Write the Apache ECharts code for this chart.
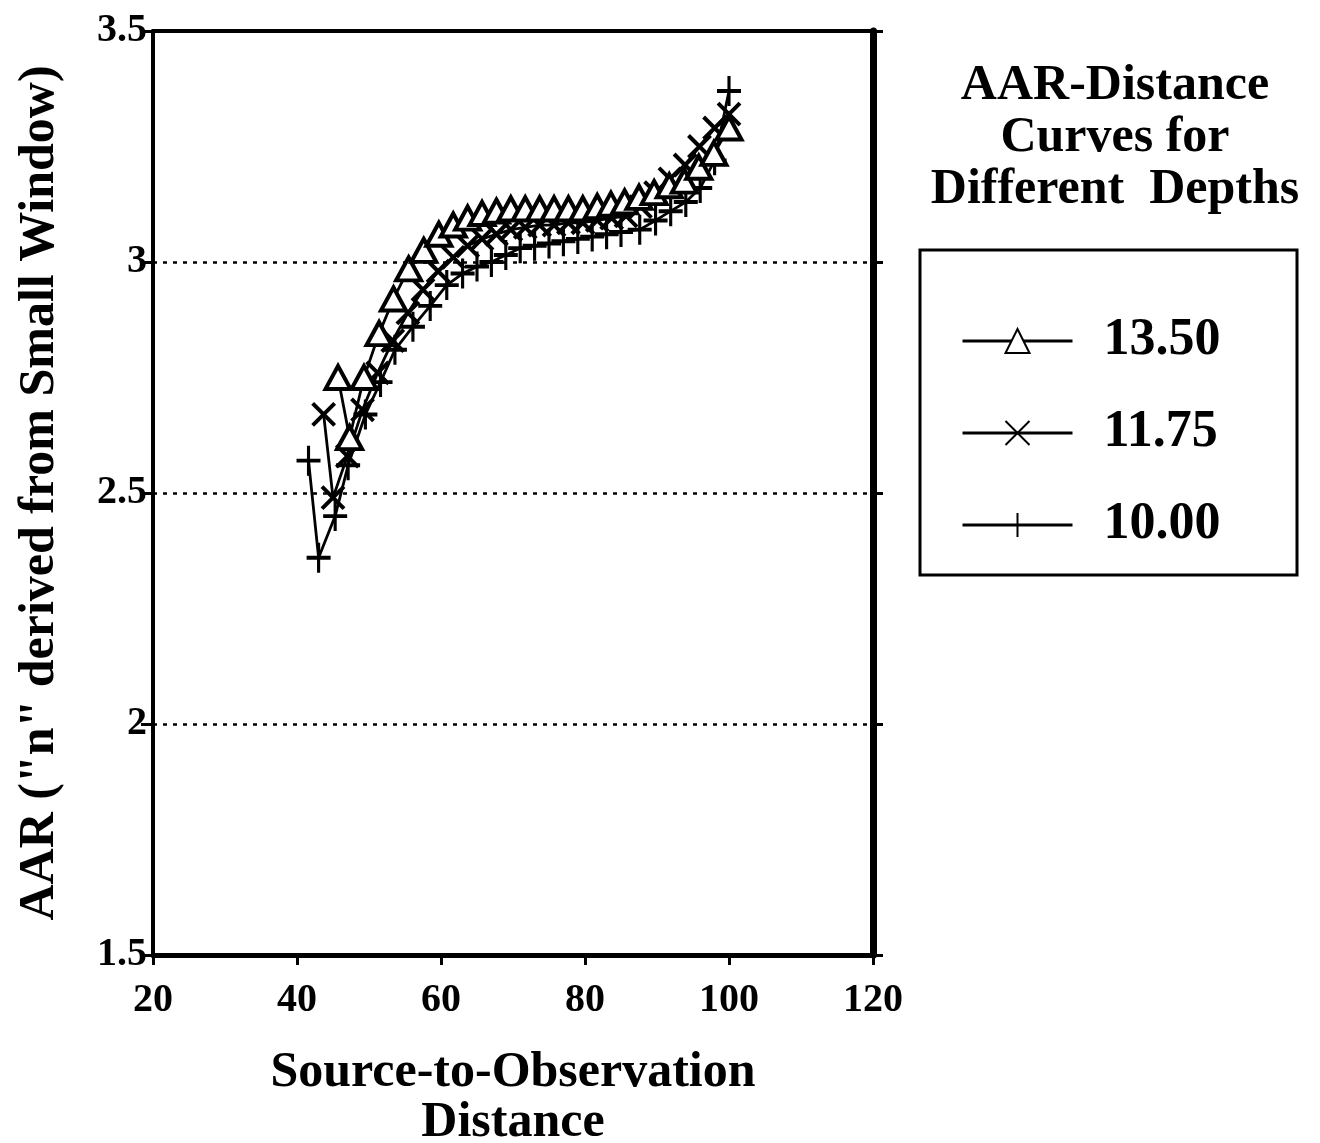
<!DOCTYPE html>
<html>
<head>
<meta charset="utf-8">
<script src="https://cdn.jsdelivr.net/npm/echarts@6/dist/echarts.min.js"></script>
<style>
  html, body { margin: 0; padding: 0; background: #fff; }
  #chart { width: 1320px; height: 1143px; }
</style>
</head>
<body>
<div id="chart"></div>
<script>
  // depth 13.50 (triangles)
  const x1350 = [45.7, 47.3, 49.3, 51.4, 53.4, 55.5, 57.6, 59.7, 61.7, 63.7, 65.7, 67.7, 69.7, 71.7,
    73.7, 75.7, 77.7, 79.7, 81.7, 83.6, 85.5, 87.5, 89.6, 91.7, 93.8, 95.8, 97.9, 100.0];
  const y1350 = [2.75, 2.62, 2.75, 2.845, 2.92, 2.985, 3.025, 3.06, 3.08, 3.095, 3.105, 3.11, 3.115, 3.115,
    3.115, 3.115, 3.115, 3.115, 3.12, 3.125, 3.13, 3.14, 3.15, 3.165, 3.175, 3.205, 3.235, 3.29];

  // depth 11.75 (crosses)
  const x1175 = [43.7, 45.0, 47.0, 49.1, 51.2, 53.3, 55.4, 57.5, 59.6, 61.7, 63.7, 65.7, 67.7, 69.7, 71.7,
    73.7, 75.7, 77.7, 79.7, 81.7, 83.7, 85.7, 87.7, 89.8, 91.8, 93.9, 95.9, 98.0, 100.0];
  const y1175 = [2.67, 2.49, 2.58, 2.68, 2.76, 2.83, 2.89, 2.94, 2.98, 3.01, 3.035, 3.05, 3.06, 3.07, 3.075,
    3.08, 3.08, 3.085, 3.085, 3.09, 3.095, 3.10, 3.12, 3.15, 3.18, 3.21, 3.25, 3.29, 3.32];

  // depth 10.00 (plus)
  const x1000 = [41.6, 43.0, 45.3, 47.1, 49.5, 51.6, 53.6, 56.1, 58.5, 60.8, 63.0, 65.0, 67.0, 69.0, 71.0,
    73.0, 75.0, 77.0, 79.0, 81.0, 83.0, 85.0, 87.6, 89.8, 91.9, 94.0, 96.0, 98.0, 100.0];
  const y1000 = [2.57, 2.36, 2.45, 2.56, 2.67, 2.74, 2.81, 2.86, 2.905, 2.95, 2.975, 2.99, 3.0, 3.015, 3.03,
    3.035, 3.04, 3.045, 3.05, 3.055, 3.06, 3.065, 3.07, 3.09, 3.11, 3.13, 3.16, 3.22, 3.37];

  const xTicks = [20, 40, 60, 80, 100, 120];
  const yTicks = [1.5, 2, 2.5, 3, 3.5];

  const serif = "'Liberation Serif', 'DejaVu Serif', serif";
  const pairs = (xs, ys) => xs.map((v, i) => [v, ys[i]]);

  const chart = echarts.init(document.getElementById("chart"));

  const lineStyle = { color: "#000", width: 2.8 };

  chart.setOption({
    animation: false,
    backgroundColor: "#fff",
    title: {
      text: "AAR-Distance\nCurves for\nDifferent  Depths",
      left: 1110,
      top: 55,
      textAlign: "center",
      textStyle: { fontFamily: serif, fontWeight: "bold", fontSize: 50, lineHeight: 52, color: "#000" }
    },
    legend: {
      data: ["13.50", "11.75", "10.00"],
      orient: "vertical",
      left: 956,
      top: 310,
      itemWidth: 110,
      itemHeight: 30,
      itemGap: 40,
      lineStyle: { width: 3 },
      textStyle: { fontFamily: serif, fontWeight: "bold", fontSize: 52, lineHeight: 44, color: "#000", padding: [0, 0, 0, 26] }
    },
    graphic: [{
      type: "rect",
      shape: { x: 920, y: 250, width: 377, height: 325 },
      style: { fill: "none", stroke: "#000", lineWidth: 3 }
    }],
    grid: { left: 153, right: 447, top: 31, bottom: 188, outerBoundsMode: "none", containLabel: false },
    xAxis: [{
      type: "value",
      min: xTicks[0],
      max: xTicks[xTicks.length - 1],
      interval: 20,
      name: "Source-to-Observation\nDistance",
      nameLocation: "middle",
      nameGap: 93,
      nameTextStyle: { fontFamily: serif, fontWeight: "bold", fontSize: 50, lineHeight: 50, color: "#000" },
      axisLine: { lineStyle: { color: "#000", width: 5 } },
      axisTick: { length: 10, lineStyle: { color: "#000", width: 3 } },
      axisLabel: { margin: 26, fontFamily: serif, fontWeight: "bold", fontSize: 40, color: "#000" },
      splitLine: { show: false }
    }, {
      type: "value",
      position: "top",
      min: xTicks[0],
      max: xTicks[xTicks.length - 1],
      interval: 20,
      axisLine: { show: true, lineStyle: { color: "#000", width: 4 } },
      axisTick: { show: false },
      axisLabel: { show: false },
      splitLine: { show: false }
    }],
    yAxis: [{
      type: "value",
      min: yTicks[0],
      max: yTicks[yTicks.length - 1],
      interval: 0.5,
      name: "AAR (\"n\" derived from Small Window)",
      nameLocation: "middle",
      nameRotate: 90,
      nameGap: 88,
      nameTextStyle: { fontFamily: serif, fontWeight: "bold", fontSize: 50, color: "#000" },
      axisLine: { show: true, lineStyle: { color: "#000", width: 4 } },
      axisTick: { length: 12, lineStyle: { color: "#000", width: 3 } },
      axisLabel: {
        margin: 6,
        fontFamily: serif, fontWeight: "bold", fontSize: 40, color: "#000",
        formatter: (v) => String(v)
      },
      splitLine: { show: true, lineStyle: { color: "#000", width: 2.5, type: [4, 6] } }
    }, {
      type: "value",
      position: "right",
      min: yTicks[0],
      max: yTicks[yTicks.length - 1],
      interval: 0.5,
      axisLine: { show: true, lineStyle: { color: "#000", width: 7 } },
      axisTick: { show: true, length: 10, lineStyle: { color: "#000", width: 3 } },
      axisLabel: { show: false },
      splitLine: { show: false }
    }],
    series: [
      {
        name: "10.00",
        type: "line",
        data: pairs(x1000, y1000),
        symbol: "path://M5,0L5,10M0,5L10,5",
        symbolSize: [24, 30],
        showAllSymbol: true,
        lineStyle: lineStyle,
        itemStyle: { color: "#000", borderColor: "#000", borderWidth: 3.5 },
        z: 2
      },
      {
        name: "11.75",
        type: "line",
        data: pairs(x1175, y1175),
        symbol: "path://M0,0L10,10M10,0L0,10",
        symbolSize: 22,
        showAllSymbol: true,
        lineStyle: lineStyle,
        itemStyle: { color: "#000", borderColor: "#000", borderWidth: 4 },
        z: 3
      },
      {
        name: "13.50",
        type: "line",
        data: pairs(x1350, y1350),
        symbol: "triangle",
        symbolSize: [25, 23],
        showAllSymbol: true,
        lineStyle: lineStyle,
        itemStyle: { color: "#fff", borderColor: "#000", borderWidth: 4 },
        z: 4
      }
    ]
  });
</script>
</body>
</html>
